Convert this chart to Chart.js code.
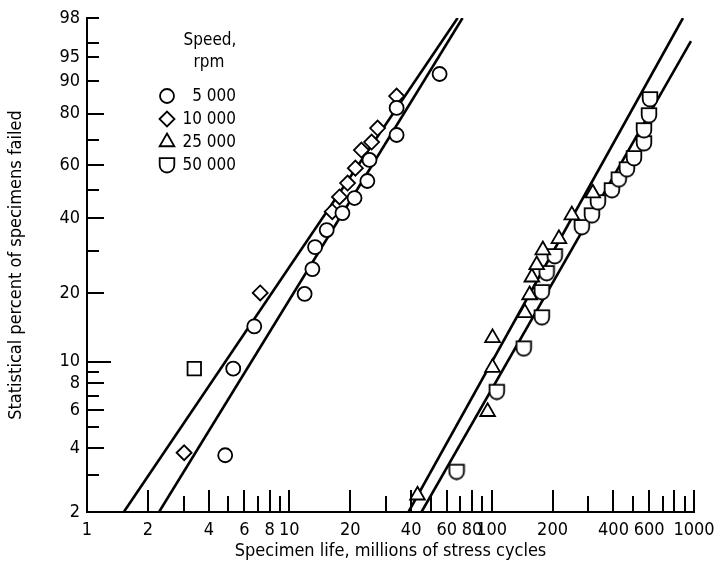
<!DOCTYPE html>
<html><head><meta charset="utf-8">
<script src="https://cdn.jsdelivr.net/npm/chart.js@4/dist/chart.umd.min.js"></script>
<style>html,body{margin:0;padding:0;background:#fff}</style>
</head><body>
<canvas id="c" width="726" height="568"></canvas>
<script>
const FONT = "'Liberation Sans Narrow','DejaVu Sans Condensed',sans-serif";

// ---- data ----
const legendTitle = ['Speed,', 'rpm'];
const seriesLabels = ['5 000', '10 000', '25 000', '50 000'];

// 5 000 rpm (circles)
const life5k = [4.82, 5.28, 6.71, 11.9, 13.0, 13.4, 15.3, 18.3, 21.0, 24.3, 24.9, 33.9, 33.9, 55.3];
const pct5k  = [3.7, 9.3, 14.4, 19.9, 25.3, 31.0, 36.1, 41.7, 47.1, 53.6, 62.0, 72.0, 82.0, 91.7];
// 10 000 rpm (diamonds)
const life10k = [3.02, 7.18, 16.3, 17.7, 19.4, 21.2, 22.7, 25.5, 27.3, 33.9];
const pct10k  = [3.8, 20.1, 42.2, 47.5, 52.8, 58.7, 66.0, 69.2, 74.7, 85.8];
// 25 000 rpm (triangles)
const life25k = [43.0, 95.5, 101, 101, 146, 154, 158, 167, 179, 215, 249, 316];
const pct25k  = [2.4, 5.9, 9.4, 12.8, 16.5, 19.7, 23.4, 26.3, 30.2, 33.4, 41.0, 48.9];
// 50 000 rpm (D shapes)
const life50k = [67.1, 106, 144, 177, 177, 187, 205, 279, 313, 335, 393, 425, 466, 505, 566, 566, 599, 606];
const pct50k  = [3.1, 7.3, 11.5, 15.8, 20.3, 24.4, 28.6, 37.1, 41.0, 45.6, 50.1, 54.3, 58.3, 62.8, 68.8, 73.9, 79.5, 84.9];
// lone square
const lifeSquare = [3.39];
const pctSquare  = [9.3];

// fitted lines (end points)
const line10kLife = [1.52, 67.9];  const line10kPct = [2, 99];
const line5kLife  = [2.27, 71.8];  const line5kPct  = [2, 99];
const line25kLife = [38.8, 882];   const line25kPct = [2, 99];
const line50kLife = [45.0, 966];   const line50kPct = [2, 97.2];

// axes
const xMin = 1, xMax = 1000;
const xTickValues = [1,2,3,4,5,6,7,8,9,10,20,30,40,50,60,70,80,90,100,200,300,400,500,600,700,800,900,1000];
const xTickLabels = ['1','2','','4','','6','','8','','10','20','','40','','60','','80','','100','200','','400','','600','','','','1000'];
const yMinPct = 2, yMaxPct = 99;
const yTickValues = [2,3,4,5,6,7,8,9,10,20,30,40,50,60,70,80,90,95,97,99];
const yTickLabels = ['2','','4','','6','','8','','10','20','','40','','60','','80','90','95','','98'];
const xTitle = 'Specimen life, millions of stress cycles';
const yTitle = 'Statistical percent of specimens failed';

// ---- helpers ----
const W = p => Math.log(-Math.log(1 - p / 100));
const pts = (xs, ps) => xs.map((x, i) => ({x: x, y: W(ps[i])}));

function makeDShape() {
  const c = document.createElement('canvas');
  c.width = 18; c.height = 18;
  const g = c.getContext('2d');
  g.lineWidth = 1.8; g.strokeStyle = '#000'; g.fillStyle = '#fff';
  g.beginPath();
  g.moveTo(1.7, 2.2); g.lineTo(16.3, 2.2); g.lineTo(16.3, 9.2);
  g.arc(9, 9.2, 7.3, 0, Math.PI, false);
  g.closePath(); g.fill(); g.stroke();
  return c;
}
const dShape = makeDShape();

const markerBase = {showLine: false, borderColor: '#000', backgroundColor: '#fff', pointBorderWidth: 1.8, pointHoverRadius: 7};
const datasets = [
  Object.assign({label: seriesLabels[0], data: pts(life5k, pct5k), pointStyle: 'circle', pointRadius: 7}, markerBase),
  Object.assign({label: seriesLabels[1], data: pts(life10k, pct10k), pointStyle: 'rectRot', pointRadius: 7.5}, markerBase),
  Object.assign({label: seriesLabels[2], data: pts(life25k, pct25k), pointStyle: 'triangle', pointRadius: 8.5}, markerBase),
  Object.assign({label: seriesLabels[3], data: pts(life50k, pct50k), pointStyle: dShape, pointRadius: 8}, markerBase),
  Object.assign({label: 'square', data: pts(lifeSquare, pctSquare), pointStyle: 'rect', pointRadius: 9.5}, markerBase),
];
[[line10kLife, line10kPct], [line5kLife, line5kPct], [line25kLife, line25kPct], [line50kLife, line50kPct]].forEach(([l, p]) => {
  datasets.push({type: 'line', data: pts(l, p), showLine: true, borderColor: '#000', borderWidth: 2.6, pointRadius: 0, fill: false, tension: 0});
});

// inward ticks
const inTicks = {
  id: 'inTicks',
  beforeDatasetsDraw(chart) {
    const {ctx, scales: {x, y}} = chart;
    ctx.save();
    ctx.strokeStyle = '#000'; ctx.lineWidth = 2;
    ctx.beginPath();
    const y0 = y.getPixelForValue(W(yMinPct));
    xTickValues.forEach(v => {
      if (v === xMin) return;
      const m = Math.round(v / Math.pow(10, Math.floor(Math.log10(v) + 1e-9)));
      const len = (m % 2 === 0 || m === 1) ? 22 : 16;
      const px = Math.round(x.getPixelForValue(v));
      ctx.moveTo(px, y0); ctx.lineTo(px, y0 - len);
    });
    const x0 = x.getPixelForValue(xMin);
    yTickValues.forEach((p, i) => {
      if (p === yMinPct) return;
      const len = p === 10 ? 24 : (yTickLabels[i] && p < 90 ? 17 : 12);
      const py = Math.round(y.getPixelForValue(W(p)));
      ctx.moveTo(x0, py); ctx.lineTo(x0 + len, py);
    });
    ctx.stroke();
    ctx.restore();
  }
};

// legend inside plot
const innerLegend = {
  id: 'innerLegend',
  afterDraw(chart) {
    const ctx = chart.ctx;
    ctx.save();
    ctx.fillStyle = '#000';
    ctx.font = '17px ' + FONT;
    ctx.textAlign = 'center'; ctx.textBaseline = 'middle';
    ctx.fillText(legendTitle[0], 210, 41);
    ctx.fillText(legendTitle[1], 209, 63);
    ctx.textAlign = 'right';
    for (let i = 0; i < 4; i++) {
      const ds = chart.data.datasets[i];
      const yy = 96 + i * 23;
      ctx.strokeStyle = '#000'; ctx.fillStyle = '#fff'; ctx.lineWidth = 1.8;
      Chart.helpers.drawPoint(ctx, {pointStyle: ds.pointStyle, radius: ds.pointRadius, rotation: 0, borderWidth: 1.8}, 167, yy);
      ctx.fillStyle = '#000';
      ctx.fillText(ds.label, 236, yy + 1);
    }
    ctx.restore();
  }
};

new Chart(document.getElementById('c'), {
  type: 'scatter',
  data: {datasets},
  plugins: [inTicks, innerLegend],
  options: {
    responsive: false, animation: false, devicePixelRatio: 1,
    layout: {padding: {top: 18, right: 32, left: 0, bottom: 0}},
    plugins: {legend: {display: false}, tooltip: {enabled: false}},
    scales: {
      x: {
        type: 'logarithmic', min: xMin, max: xMax, position: 'bottom',
        grid: {display: false, drawTicks: false},
        border: {display: true, color: '#000', width: 2},
        afterBuildTicks: s => { s.ticks = xTickValues.map(v => ({value: v})); },
        afterFit: s => { s.height = 56; },
        ticks: {color: '#000', font: {family: FONT, size: 18}, padding: 8, maxRotation: 0, autoSkip: false,
          callback: (v, i) => xTickLabels[i]},
        title: {display: true, text: xTitle, color: '#000', font: {family: FONT, size: 18}, padding: {top: 0, bottom: 6}}
      },
      y: {
        type: 'linear', min: W(yMinPct), max: W(yMaxPct), position: 'left',
        grid: {display: false, drawTicks: false},
        border: {display: true, color: '#000', width: 2},
        afterBuildTicks: s => { s.ticks = yTickValues.map(p => ({value: W(p)})); },
        afterFit: s => { s.width = 87; },
        ticks: {color: '#000', font: {family: FONT, size: 18}, padding: 7, autoSkip: false,
          callback: (v, i) => yTickLabels[i]},
        title: {display: true, text: yTitle, color: '#000', font: {family: FONT, size: 18}, padding: {top: 6, bottom: 0}}
      }
    }
  }
});
</script>
</body></html>
